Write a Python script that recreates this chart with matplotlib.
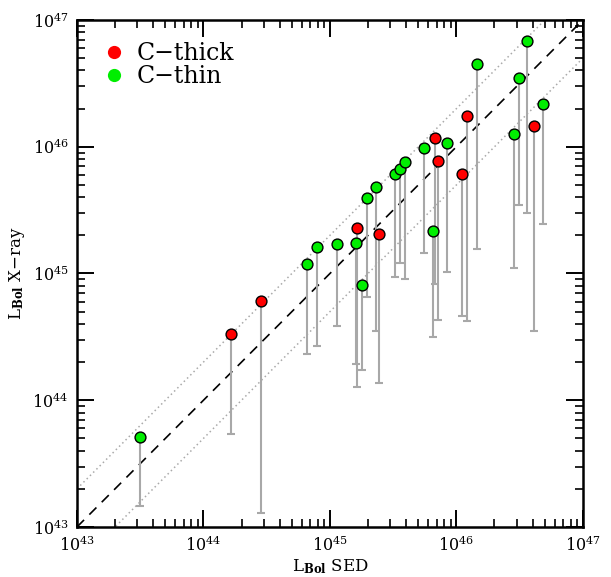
import numpy as np
import matplotlib
matplotlib.use("Agg")
import matplotlib.pyplot as plt
from matplotlib.lines import Line2D
from matplotlib.ticker import LogLocator, LogFormatterMathtext, NullFormatter

plt.rcParams['font.family'] = ['DejaVu Serif']
plt.rcParams['mathtext.fontset'] = 'dejavuserif'

# ---- data (log10 of luminosities, erg/s) ----
category = ['thin', 'thin', 'thin', 'thin', 'thick', 'thin', 'thin', 'thin', 'thick',
            'thin', 'thin', 'thin', 'thin', 'thin', 'thick', 'thick', 'thin', 'thick',
            'thick', 'thin', 'thin', 'thin', 'thin', 'thick', 'thin', 'thin', 'thick', 'thick']
log_lbol_sed = [44.821, 44.900, 45.053, 45.203, 45.211, 45.251, 45.292, 45.364, 45.390,
                45.511, 45.551, 45.590, 45.743, 45.812, 45.832, 45.854, 45.923, 46.041,
                46.083, 46.164, 46.457, 46.492, 46.555, 46.613, 46.684, 43.498, 44.220, 44.452]
log_lbol_xray = [45.073, 45.211, 45.230, 45.243, 45.361, 44.909, 45.592, 45.682, 45.312,
                 45.785, 45.824, 45.882, 45.993, 45.333, 46.073, 45.884, 46.032, 45.783,
                 46.244, 46.653, 46.103, 46.542, 46.832, 46.164, 46.340, 43.712, 44.523, 44.781]
log_lbol_xray_low = [44.361, 44.430, 44.582, 44.284, 44.102, 44.241, 44.812, 44.549, 44.134,
                     44.972, 45.081, 44.954, 45.162, 44.501, 44.915, 44.633, 45.013, 44.665,
                     44.623, 45.192, 45.046, 45.543, 45.475, 44.549, 45.393, 43.168, 43.731, 43.113]
legend_labels = ['C\u2212thick', 'C\u2212thin']
colors = {'thick': '#ff0000', 'thin': '#00ee00'}
axis_range = [1e43, 1e47]
ratio_band = 2.0

x = 10 ** np.array(log_lbol_sed)
y = 10 ** np.array(log_lbol_xray)
ylow = 10 ** np.array(log_lbol_xray_low)

fig = plt.figure(figsize=(6.11, 5.77), dpi=100)
ax = fig.add_axes([0.126, 0.0867, 0.828, 0.8786])
ax.set_xscale('log')
ax.set_yscale('log')
ax.set_xlim(axis_range)
ax.set_ylim(axis_range)

line = np.array(axis_range)
ax.plot(line, line, color='black', ls=(0, (6, 4.5)), lw=1.2, zorder=2)
ax.plot(line, line * ratio_band, color='#aaaaaa', ls=(0, (1, 2.0)), lw=1.1, zorder=1)
ax.plot(line, line / ratio_band, color='#aaaaaa', ls=(0, (1, 2.0)), lw=1.1, zorder=1)

for i in range(len(x)):
    ax.errorbar([x[i]], [y[i]], yerr=[[y[i] - ylow[i]], [0]], fmt='none',
                ecolor='#a8a8a8', elinewidth=1.5, capsize=3, capthick=1.5, zorder=3)
for i in range(len(x)):
    ax.plot([x[i]], [y[i]], 'o', ms=7.8, mfc=colors[category[i]], mec='black',
            mew=1.0, zorder=4 + i * 0.01)

handles = [Line2D([], [], ls='none', marker='o', ms=9.5, mfc=colors['thick'], mec='none'),
           Line2D([], [], ls='none', marker='o', ms=9.5, mfc=colors['thin'], mec='none')]
ax.legend(handles, legend_labels, loc='upper left', bbox_to_anchor=(0.005, 1.0),
          frameon=False, fontsize=17, handlelength=1.0, handletextpad=0.45,
          labelspacing=0.0, borderaxespad=0.55, borderpad=0.4)

for sp in ax.spines.values():
    sp.set_linewidth(1.8)

ax.xaxis.set_major_locator(LogLocator(base=10, numticks=10))
ax.yaxis.set_major_locator(LogLocator(base=10, numticks=10))
ax.xaxis.set_minor_locator(LogLocator(base=10, subs=np.arange(2, 10), numticks=10))
ax.yaxis.set_minor_locator(LogLocator(base=10, subs=np.arange(2, 10), numticks=10))
ax.xaxis.set_major_formatter(LogFormatterMathtext())
ax.yaxis.set_major_formatter(LogFormatterMathtext())
ax.xaxis.set_minor_formatter(NullFormatter())
ax.yaxis.set_minor_formatter(NullFormatter())
ax.tick_params(which='both', direction='in', top=True, right=True, labelsize=11.5)
ax.tick_params(which='major', length=12, width=1.4, pad=6)
ax.tick_params(which='minor', length=6, width=1.2)

ax.set_xlabel(r'L$_{\mathbf{Bol}}$ SED', fontsize=12, labelpad=2)
ax.set_ylabel(r'L$_{\mathbf{Bol}}$ X$-$ray', fontsize=12, labelpad=4)

fig.savefig('out.png', dpi=100)
